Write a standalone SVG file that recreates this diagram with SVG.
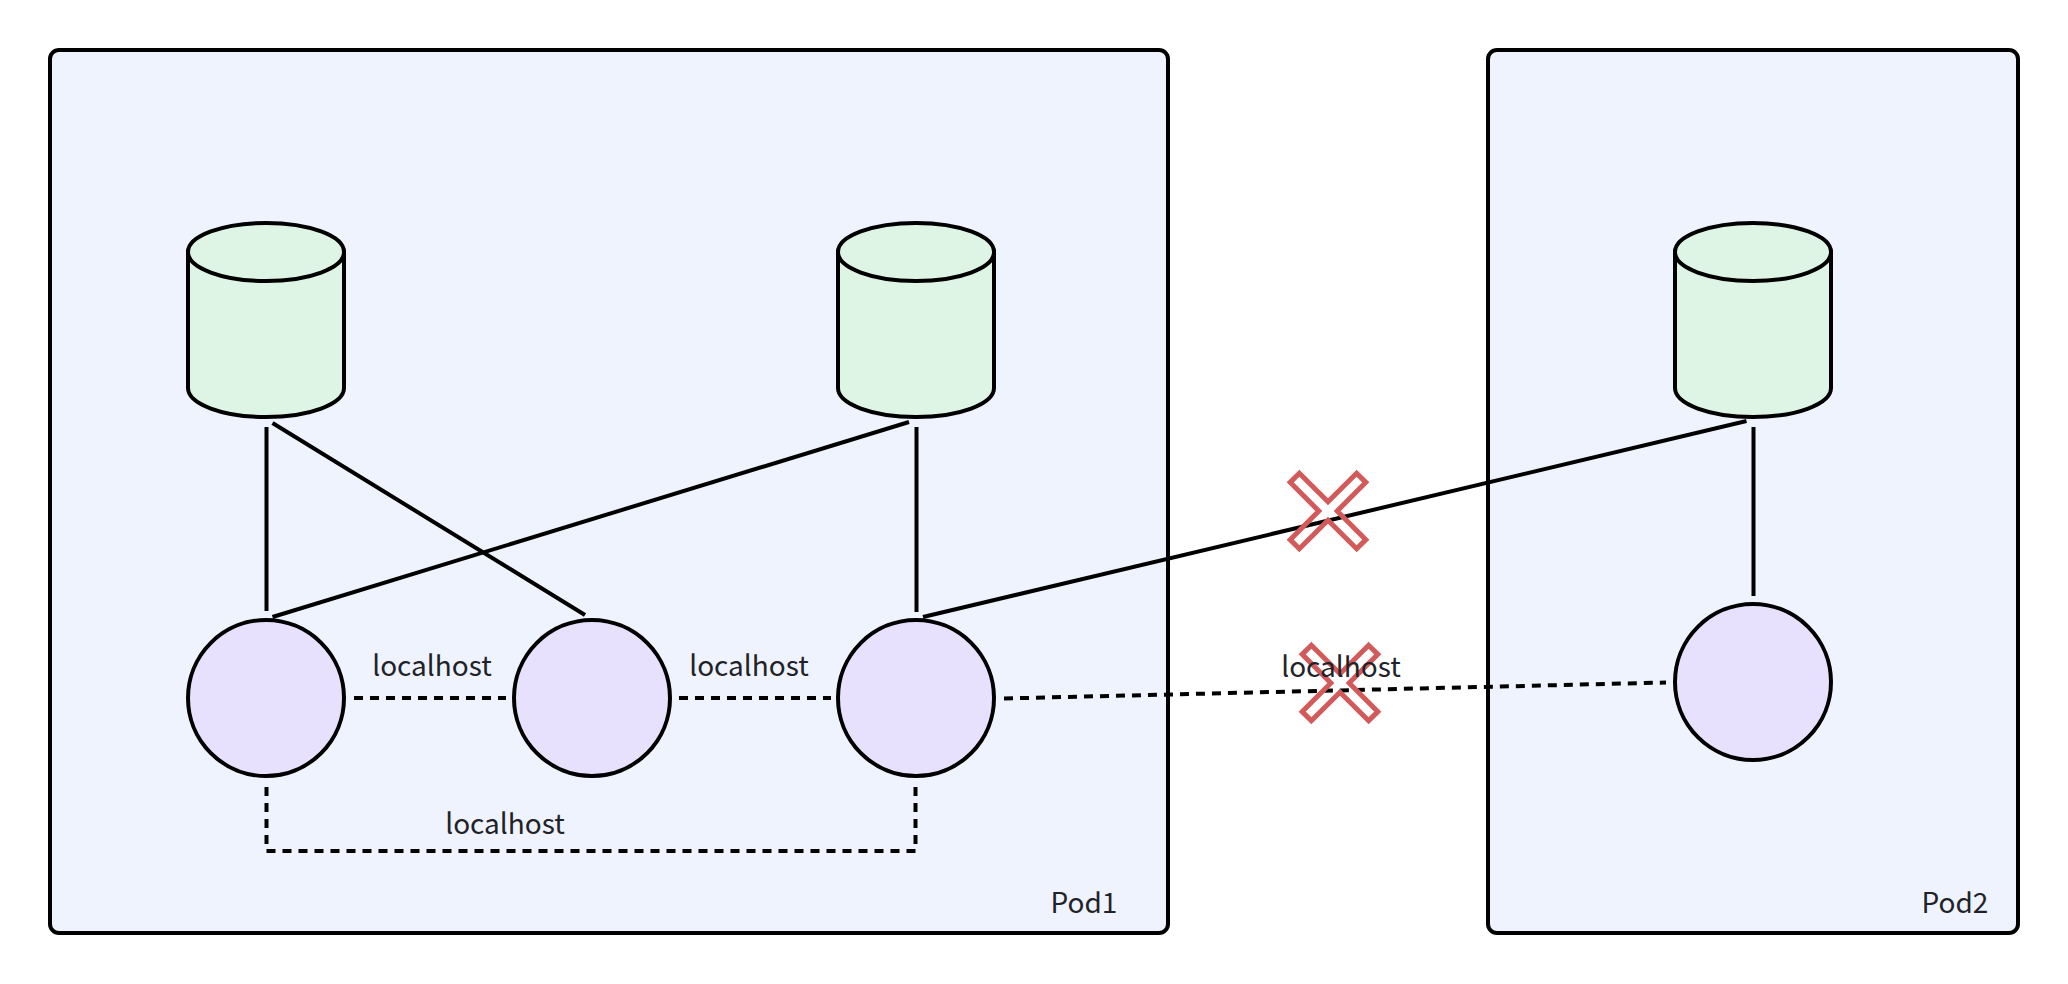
<svg xmlns="http://www.w3.org/2000/svg" xmlns:xlink="http://www.w3.org/1999/xlink" width="2068" height="984" viewBox="0 0 2068 984">
<style>
.pod{fill:#eef3fd;stroke:#000;stroke-width:4}
.cyl{fill:#def5e5;stroke:#000;stroke-width:4}
.ctr{fill:#e8e1fd;stroke:#000;stroke-width:4}
.ln{fill:none;stroke:#000;stroke-width:4}
.dl{fill:none;stroke:#000;stroke-width:4;stroke-dasharray:9 7}
.xm{fill:none;stroke:#d35a5a;stroke-width:5}
.lbl{font-family:"Noto Sans CJK SC","Noto Sans",sans-serif;font-size:28px;fill:#1f2329;text-anchor:middle}
</style>
<defs>
<polygon id="xmark" points="-6.5,-47 6.5,-47 6.5,-6.5 47,-6.5 47,6.5 6.5,6.5 6.5,47 -6.5,47 -6.5,6.5 -47,6.5 -47,-6.5 -6.5,-6.5" transform="rotate(45)"/>
</defs>
<rect width="2068" height="984" fill="#fff"/>
<g id="pod1"><rect class="pod" x="50" y="50" width="1118" height="883" rx="9"/><text class="lbl" x="1084" y="913">Pod1</text></g>
<g id="pod2"><rect class="pod" x="1488" y="50" width="530" height="883" rx="9"/><text class="lbl" x="1955" y="913">Pod2</text></g>
<g id="connectors">
<line class="ln" x1="266.5" y1="427" x2="266.5" y2="611"/>
<line class="ln" x1="272.5" y1="423" x2="585" y2="615"/>
<line class="ln" x1="909" y1="422" x2="272.5" y2="617"/>
<line class="ln" x1="916.5" y1="427" x2="916.5" y2="612"/>
<line class="ln" x1="1746.5" y1="421" x2="923" y2="617"/>
<line class="ln" x1="1753.5" y1="427" x2="1753.5" y2="596"/>
<line class="dl" x1="354" y1="698" x2="506" y2="698"/>
<line class="dl" x1="679" y1="698" x2="831" y2="698"/>
<line class="dl" x1="1004" y1="698.5" x2="1666" y2="682.5"/>
<polyline class="dl" points="266.5,787 266.5,851 915.5,851 915.5,787"/>
</g>
<g id="db1"><path class="cyl" d="M188,252 V388 A78,29 0 0 0 344,388 V252 Z"/><ellipse class="cyl" cx="266" cy="252" rx="78" ry="29"/></g>
<g id="db2"><path class="cyl" d="M838,252 V388 A78,29 0 0 0 994,388 V252 Z"/><ellipse class="cyl" cx="916" cy="252" rx="78" ry="29"/></g>
<g id="db3"><path class="cyl" d="M1675,252 V388 A78,29 0 0 0 1831,388 V252 Z"/><ellipse class="cyl" cx="1753" cy="252" rx="78" ry="29"/></g>
<g id="c1"><circle class="ctr" cx="266" cy="698" r="78"/></g>
<g id="c2"><circle class="ctr" cx="592" cy="698" r="78"/></g>
<g id="c3"><circle class="ctr" cx="916" cy="698" r="78"/></g>
<g id="c4"><circle class="ctr" cx="1753" cy="682" r="78"/></g>
<g id="x1"><use xlink:href="#xmark" class="xm" x="1328" y="511"/></g>
<g id="x2"><use xlink:href="#xmark" class="xm" x="1340" y="683"/></g>
<g id="labels">
<text class="lbl" x="432" y="676">localhost</text>
<text class="lbl" x="749" y="676">localhost</text>
<text class="lbl" x="505" y="834">localhost</text>
<text class="lbl" x="1341" y="677">localhost</text>
</g>
</svg>
